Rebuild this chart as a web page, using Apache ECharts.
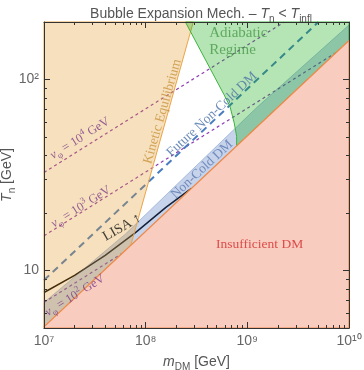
<!doctype html>
<html>
<head>
<meta charset="utf-8">
<script src="https://cdn.jsdelivr.net/npm/echarts@6/dist/echarts.min.js"></script>
<style>
html, body { margin: 0; padding: 0; background: #fff; }
#main { width: 364px; height: 370px; }
</style>
</head>
<body>
<div id="main"></div>
<script>
// axis ranges, GeV
var mRange = [1e7, 1e10];
var tRange = [5, 200];

var xMajor = [1e7, 1e8, 1e9, 1e10];
var xLabels = ['10⁷', '10⁸', '10⁹', '10¹⁰'];
var yMajor = [10, 100];
var yLabels = ['10', '10²'];

// region edges, [m_DM, T_n] in GeV
var insufficientEdge = [[1e7, 5.07], [1e10, 160]];
var noncoldTop = [[1e7, 6.8], [6.3e7, 15.5], [1.26e9, 72], [1e10, 193]];
var kineticEdge = [[7.14e7, 13.55], [2.94e8, 200]];
var adiabaticEdge = [[2.46e8, 200], [5.89e8, 83.4], [6.75e8, 72.3], [7.43e8, 59.2], [7.85e8, 50.4], [7.85e8, 44.9]];

// curves
var lisa = [[1e7, 7.67], [2e7, 9.44], [4e7, 12.0], [7.94e7, 15.8], [1.58e8, 21.4], [2.82e8, 26.9]];
var futureNonCold = [[1e7, 8.9], [5.0e9, 200]];
var vphi4 = [[1e7, 32.6], [2.31e9, 200]];
var vphi3 = [[1e7, 15.2], [7.41e9, 138]];
var vphi2 = [[1e7, 6.81], [5.89e7, 12.3]];

var sans = 'Liberation Sans';
var serif = 'Liberation Serif';

function lg(v) { return Math.log10(v); }
function toXY(pts) { return pts.map(function (p) { return [lg(p[0]), lg(p[1])]; }); }

function rich(size, color, family) {
    family = family || serif;
    var base = { fontFamily: family, fontSize: size, color: color, fontWeight: 'normal', lineHeight: size + 5 };
    var small = { fontFamily: family, fontSize: Math.round(size * 0.7), color: color, fontWeight: 'normal' };
    return {
        n: base,
        i: Object.assign({}, base, { fontStyle: 'italic' }),
        sub: Object.assign({}, small, { verticalAlign: 'bottom' }),
        sup: Object.assign({}, small, { verticalAlign: 'top' })
    };
}

// annotations
var purple = '#7a3a86';
var notes = [
    { text: 'Kinetic Equilibrium', at: [1.466e8, 68], rotate: 74, color: '#c8923c', size: 13.5 },
    { text: 'Future Non-Cold DM', at: [4.49e8, 65.6], rotate: 43, color: '#4a6fa8', size: 13.5 },
    { text: 'Non-Cold DM', at: [3.58e8, 33.8], rotate: 43, color: '#5a78b0', size: 13.5 },
    { text: 'LISA ↑', at: [5.85e7, 16.8], rotate: 30, color: '#111', size: 14 },
    { text: 'Adiabatic\nRegime', at: [4.21e8, 158], rotate: 0, color: '#4a9a4a', size: 15, align: 'left' },
    { text: 'Insufficient DM', at: [1.32e9, 13.7], rotate: 0, color: '#d42a2a', size: 13.5 },
    { text: '{i|v}{sub|φ}{n| = 10}{sup|4}{n| GeV}', at: [2.26e7, 49.1], rotate: 32, color: purple, size: 12.5 },
    { text: '{i|v}{sub|φ}{n| = 10}{sup|3}{n| GeV}', at: [2.31e7, 21.5], rotate: 32, color: purple, size: 12.5 },
    { text: '{i|v}{sub|φ}{n| = 10}{sup|2}{n| GeV}', at: [2.02e7, 7.4], rotate: 32, color: purple, size: 12.5 }
];

var xMinor = [], yMinor = [];
[7, 8, 9].forEach(function (d) {
    for (var k = 2; k <= 9; k++) xMinor.push(d + lg(k));
});
[6, 7, 8, 9, 20, 30, 40, 50, 60, 70, 80, 90].forEach(function (v) { yMinor.push(lg(v)); });

function labelOf(v, majors, labels) {
    for (var i = 0; i < majors.length; i++) {
        if (Math.abs(lg(majors[i]) - v) < 1e-6) return labels[i];
    }
    return '';
}

function area(pts, fill, stroke, width, z) {
    var xy = toXY(pts);
    return {
        type: 'custom',
        coordinateSystem: 'cartesian2d',
        z: z,
        silent: true,
        data: xy,
        renderItem: function (params, api) {
            if (params.dataIndex !== 0) return;
            return {
                type: 'polygon',
                shape: { points: xy.map(function (p) { return api.coord(p); }) },
                style: { fill: fill, stroke: stroke, lineWidth: width }
            };
        }
    };
}

function curve(pts, color, width, dash, z) {
    return {
        type: 'line',
        z: z,
        silent: true,
        showSymbol: false,
        data: toXY(pts),
        lineStyle: { color: color, width: width, type: dash }
    };
}

var redPoly = [[mRange[0], tRange[0]]].concat(insufficientEdge).concat([[mRange[1], tRange[0]]]);
var bandPoly = insufficientEdge.concat(noncoldTop.slice().reverse());
var orangePoly = [[mRange[0], tRange[1]], insufficientEdge[0]].concat(kineticEdge);
var greenPoly = adiabaticEdge.concat([insufficientEdge[1], [mRange[1], tRange[1]]]);

var xExt = [lg(mRange[0]), lg(mRange[1])];
var yExt = [lg(tRange[0]), lg(tRange[1])];
var frame = { show: true, onZero: false, lineStyle: { color: '#333', width: 1 } };
var gridBox = { left: 44, top: 22, width: 305, height: 306, containLabel: false, outerBoundsMode: 'none' };

var chart = echarts.init(document.getElementById('main'));

chart.setOption({
    animation: false,
    backgroundColor: '#fff',
    title: {
        text: '{n|Bubble Expansion Mech. – }{i|T}{sub|n}{n| < }{i|T}{sub|infl}',
        left: 196,
        top: 0,
        textAlign: 'center',
        textStyle: { fontWeight: 'normal', rich: rich(14, '#555', sans) }
    },
    grid: [gridBox, Object.assign({}, gridBox)],
    xAxis: [
        {
            gridIndex: 0, type: 'value', min: xExt[0], max: xExt[1], interval: 1,
            position: 'bottom', z: 20,
            axisLine: frame,
            axisTick: { inside: true, length: 6, lineStyle: { color: '#333' } },
            axisLabel: {
                formatter: function (v) { return labelOf(v, xMajor, xLabels); },
                color: '#666', fontSize: 14, fontFamily: sans, margin: 6
            },
            splitLine: { show: false },
            name: '{i|m}{sub|DM}{n| [GeV]}',
            nameLocation: 'middle',
            nameGap: 25,
            nameMoveOverlap: false,
            nameTextStyle: { rich: rich(14, '#555', sans) }
        },
        {
            gridIndex: 0, type: 'value', min: xExt[0], max: xExt[1], interval: 1,
            position: 'top', z: 20,
            axisLine: frame,
            axisTick: { inside: true, length: 6, lineStyle: { color: '#333' } },
            axisLabel: { show: false },
            splitLine: { show: false }
        },
        {
            gridIndex: 1, type: 'value', min: xExt[0], max: xExt[1], position: 'bottom', z: 20,
            axisLine: { show: false },
            axisTick: { inside: true, length: 3, customValues: xMinor, lineStyle: { color: '#333' } },
            axisLabel: { show: false },
            splitLine: { show: false }
        },
        {
            gridIndex: 1, type: 'value', min: xExt[0], max: xExt[1], position: 'top', z: 20,
            axisLine: { show: false },
            axisTick: { inside: true, length: 3, customValues: xMinor, lineStyle: { color: '#333' } },
            axisLabel: { show: false },
            splitLine: { show: false }
        }
    ],
    yAxis: [
        {
            gridIndex: 0, type: 'value', min: yExt[0], max: yExt[1], position: 'left', z: 20,
            axisLine: frame,
            axisTick: { inside: true, length: 6, customValues: yMajor.map(lg), lineStyle: { color: '#333' } },
            axisLabel: {
                customValues: yMajor.map(lg),
                formatter: function (v) { return labelOf(v, yMajor, yLabels); },
                color: '#666', fontSize: 14, fontFamily: sans, margin: 5
            },
            splitLine: { show: false },
            name: '{i|T}{sub|n}{n| [GeV]}',
            nameLocation: 'middle',
            nameRotate: 90,
            nameGap: 27,
            nameMoveOverlap: false,
            nameTextStyle: { rich: rich(14, '#555', sans) }
        },
        {
            gridIndex: 0, type: 'value', min: yExt[0], max: yExt[1], position: 'right', z: 20,
            axisLine: frame,
            axisTick: { inside: true, length: 6, customValues: yMajor.map(lg), lineStyle: { color: '#333' } },
            axisLabel: { show: false },
            splitLine: { show: false }
        },
        {
            gridIndex: 1, type: 'value', min: yExt[0], max: yExt[1], position: 'left', z: 20,
            axisLine: { show: false },
            axisTick: { inside: true, length: 3, customValues: yMinor, lineStyle: { color: '#333' } },
            axisLabel: { show: false },
            splitLine: { show: false }
        },
        {
            gridIndex: 1, type: 'value', min: yExt[0], max: yExt[1], position: 'right', z: 20,
            axisLine: { show: false },
            axisTick: { inside: true, length: 3, customValues: yMinor, lineStyle: { color: '#333' } },
            axisLabel: { show: false },
            splitLine: { show: false }
        }
    ],
    series: [
        // curves sit under the translucent regions
        curve(vphi4, '#8e3cb2', 1.2, [3, 3], 1),
        curve(vphi3, '#8e3cb2', 1.2, [3, 3], 1),
        curve(vphi2, '#8e3cb2', 1.2, [3, 3], 1),
        curve(futureNonCold, '#4a7cc0', 2, [7, 5], 1),
        curve(lisa, '#000', 1.5, 'solid', 1),
        area(bandPoly, 'rgba(65,108,185,0.3)', 'rgba(65,108,185,0.45)', 0.8, 2),
        area(orangePoly, 'rgba(225,152,38,0.3)', '#eba547', 1, 3),
        area(greenPoly, 'rgba(10,168,10,0.3)', '#3cb43c', 1, 3),
        area(redPoly, '#f8cdc0', '#f08a4a', 1.2, 4),
        {
            type: 'scatter',
            z: 10,
            silent: true,
            symbolSize: 0,
            data: notes.map(function (n) {
                return {
                    value: [lg(n.at[0]), lg(n.at[1])],
                    label: {
                        show: true,
                        position: 'inside',
                        formatter: n.text,
                        rotate: n.rotate,
                        align: n.align || 'center',
                        verticalAlign: 'middle',
                        color: n.color,
                        fontFamily: serif,
                        fontSize: n.size,
                        lineHeight: n.size + 2,
                        rich: rich(n.size, n.color)
                    }
                };
            })
        }
    ]
});

window.onresize = chart.resize;
</script>
</body>
</html>
